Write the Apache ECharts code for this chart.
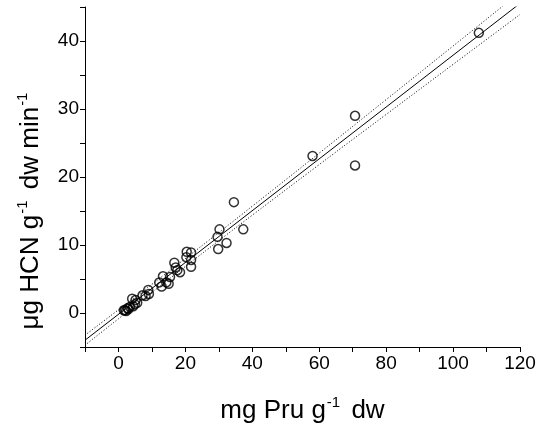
<!DOCTYPE html>
<html>
<head>
<meta charset="utf-8">
<script src="https://cdn.jsdelivr.net/npm/echarts@6/dist/echarts.min.js"></script>
<style>
html,body{margin:0;padding:0;background:#fff;}
#chart{width:536px;height:431px;}
</style>
</head>
<body>
<div id="chart"></div>
<script>
// Measured points (mg Pru g-1 dw vs µg HCN g-1 dw min-1)
var pruX = [107.7, 70.7, 70.7, 58.0, 34.5, 37.3, 30.2, 29.6, 32.3, 29.8, 20.4, 21.7, 20.3, 21.7, 21.7, 16.7, 17.1, 17.6, 18.4, 13.3, 15.4, 12.2, 12.9, 15.0, 14.3, 8.9, 9.1, 8.1, 7.2, 4.1, 5.1, 5.6, 4.4, 3.4, 2.7, 1.9, 1.6, 4.9, 3.0, 2.3];
var hcnY = [41.2, 29.0, 21.7, 23.1, 16.3, 12.3, 12.3, 11.2, 10.3, 9.4, 9.0, 8.9, 8.2, 7.8, 6.8, 7.4, 6.7, 6.3, 6.0, 5.4, 5.3, 4.5, 3.9, 4.3, 4.5, 3.4, 2.8, 2.5, 2.6, 2.1, 1.9, 1.5, 1.0, 0.9, 0.7, 0.4, 0.4, 1.3, 0.6, 0.3];

// Regression line and confidence bands
var fitX = [-10, 120];
var fitY = [-4.0, 45.53];
var bandX = [-10, 0, 10, 20, 30, 40, 60, 80, 100, 120];
var bandUpper = [-3.26, 0.47, 4.22, 8.01, 11.84, 15.71, 23.51, 31.38, 39.26, 47.16];
var bandLower = [-4.74, -0.85, 3.02, 6.85, 10.64, 14.39, 21.83, 29.20, 36.56, 43.90];

function pairs(xs, ys) { return xs.map(function (x, i) { return [x, ys[i]]; }); }

var chart = echarts.init(document.getElementById('chart'), null, {renderer: 'canvas'});
var fontFam = '"Liberation Sans", Arial, sans-serif';
chart.setOption({
  animation: false,
  backgroundColor: '#fff',
  grid: {left: 85, right: 16, top: 7, bottom: 84, containLabel: false, outerBoundsMode: 'none'},
  xAxis: {
    type: 'value', min: -10, max: 120, interval: 10,
    axisLine: {show: true, onZero: false, lineStyle: {color: '#000', width: 1}},
    axisTick: {show: true, inside: false, length: 5, lineStyle: {color: '#000'}},
    splitLine: {show: false},
    axisLabel: {color: '#000', fontSize: 19, fontFamily: fontFam, margin: 7,
      formatter: function (v) { return (v % 20 === 0 && v >= 0) ? String(v) : ''; }},
    name: 'mg Pru g{sup|-1} dw',
    nameLocation: 'middle', nameGap: 48,
    nameTextStyle: {color: '#000', fontSize: 26, fontFamily: fontFam, lineHeight: 32,
      rich: {sup: {fontSize: 15, fontFamily: fontFam, color: '#000', verticalAlign: 'top', lineHeight: 32, padding: [0, 4, 16, 1]}}}
  },
  yAxis: {
    type: 'value', min: -5, max: 45, interval: 5,
    axisLine: {show: true, onZero: false, lineStyle: {color: '#000', width: 1}},
    axisTick: {show: true, inside: false, length: 5, lineStyle: {color: '#000'}},
    splitLine: {show: false},
    axisLabel: {color: '#000', fontSize: 19, fontFamily: fontFam, margin: 6,
      formatter: function (v) { return (v % 10 === 0 && v >= 0) ? String(v) : ''; }},
    name: 'μg HCN g{sup|-1} dw min{sup|-1}',
    nameLocation: 'middle', nameGap: 36, nameRotate: 90,
    nameTextStyle: {color: '#000', fontSize: 26, fontFamily: fontFam, lineHeight: 32, padding: [0, 64, 0, 0],
      rich: {sup: {fontSize: 15, fontFamily: fontFam, color: '#000', verticalAlign: 'top', lineHeight: 32, padding: [0, 4, 16, 1]}}}
  },
  series: [
    {type: 'line', data: pairs(fitX, fitY), symbol: 'none', clip: true,
     lineStyle: {color: '#000', width: 1}, z: 2},
    {type: 'line', data: pairs(bandX, bandUpper), symbol: 'none', smooth: true, clip: true,
     lineStyle: {color: '#000', width: 1, type: [1, 2]}, z: 2},
    {type: 'line', data: pairs(bandX, bandLower), symbol: 'none', smooth: true, clip: true,
     lineStyle: {color: '#000', width: 1, type: [1, 2]}, z: 2},
    {type: 'scatter', data: pairs(pruX, hcnY), symbol: 'circle', symbolSize: 9,
     itemStyle: {color: 'rgba(0,0,0,0)', borderColor: '#000', borderWidth: 1.5}, z: 3}
  ]
});
</script>
</body>
</html>
